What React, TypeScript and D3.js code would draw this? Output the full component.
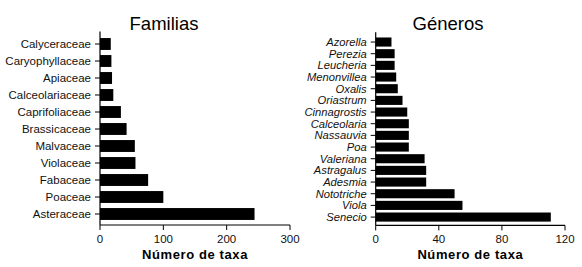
import React from "react";
import * as d3 from "d3";

const familias = ["Calyceraceae","Caryophyllaceae","Apiaceae","Calceolariaceae","Caprifoliaceae","Brassicaceae","Malvaceae","Violaceae","Fabaceae","Poaceae","Asteraceae"];
const familiasValues = [17,18,19,21,33,42,55,56,76,100,244];
const familiasTicks = [0,100,200,300];

const generos = ["Azorella","Perezia","Leucheria","Menonvillea","Oxalis","Oriastrum","Cinnagrostis","Calceolaria","Nassauvia","Poa","Valeriana","Astragalus","Adesmia","Nototriche","Viola","Senecio"];
const generosValues = [10,12,12,13,14,17,20,21,21,21,31,32,32,50,55,111];
const generosTicks = [0,40,80,120];

const FONT = "'Liberation Sans', Arial, sans-serif";

type PanelProps = {
  title: string; cats: string[]; vals: number[]; ticks: number[];
  x0: number; x1: number; yTop: number; yBottom: number; barPad: number; italic: boolean;
  titleX: number; labelSize: number;
};

function Panel({ title, cats, vals, ticks, x0, x1, yTop, yBottom, barPad, italic, titleX, labelSize }: PanelProps) {
  const x = d3.scaleLinear().domain([ticks[0], ticks[ticks.length - 1]]).range([x0, x1]);
  const y = d3.scaleBand<string>().domain(cats).range([yTop, yBottom]).paddingInner(barPad).paddingOuter(barPad / 2);
  const axisY = yBottom + 2.5;
  return (
    <g fontFamily={FONT}>
      <text x={titleX} y={30} textAnchor="middle" fontSize={18.5}>{title}</text>
      {cats.map((c, i) => {
        const yc = (y(c) as number) + y.bandwidth() / 2;
        return (
          <g key={c}>
            <rect x={x(0)} y={y(c)} width={x(vals[i]) - x(0)} height={y.bandwidth()} fill="#000" />
            <line x1={x0 - 5} x2={x0} y1={yc} y2={yc} stroke="#000" strokeWidth={1} />
            <text x={x0 - 9} y={yc} dy="0.35em" textAnchor="end" fontSize={labelSize} fontStyle={italic ? "italic" : "normal"} fill="#111">{c}</text>
          </g>
        );
      })}
      <line x1={x0} x2={x0} y1={yTop - 4} y2={axisY} stroke="#000" strokeWidth={1.2} />
      <line x1={x0} x2={x1} y1={axisY} y2={axisY} stroke="#000" strokeWidth={1.2} />
      {ticks.map(t => (
        <g key={t}>
          <line x1={x(t)} x2={x(t)} y1={axisY} y2={axisY + 5} stroke="#000" strokeWidth={1} />
          <text x={x(t)} y={axisY + 17.5} textAnchor="middle" fontSize={11.5} fill="#111">{t}</text>
        </g>
      ))}
      <text x={(x0 + x1) / 2} y={259} textAnchor="middle" fontSize={13} fontWeight="bold" letterSpacing={0.6}>Número de taxa</text>
    </g>
  );
}

export default function App() {
  return (
    <svg width={582} height={267} style={{ position: "absolute", left: 0, top: 0, background: "#fff" }}>
      <rect width={582} height={267} fill="#fff" />
      <Panel title="Familias" cats={familias} vals={familiasValues} ticks={familiasTicks}
        x0={100} x1={290} yTop={35.5} yBottom={222.5} barPad={0.3} italic={false} titleX={164} labelSize={11.5} />
      <Panel title="Géneros" cats={generos} vals={generosValues} ticks={generosTicks}
        x0={375.7} x1={565} yTop={36.2} yBottom={222.9} barPad={0.22} italic={true} titleX={448} labelSize={11.2} />
    </svg>
  );
}
